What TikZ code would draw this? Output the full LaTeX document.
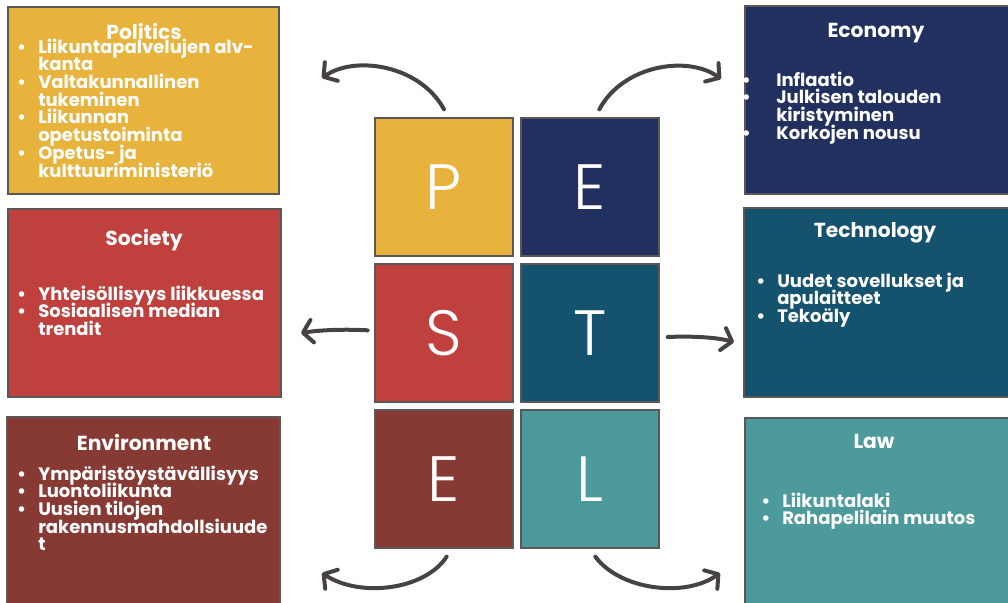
\documentclass[tikz,border=0pt]{standalone}
\usepackage{fontspec}
\setmainfont{Poppins}
\newfontfamily\letterfont{Poppins Light}
\usetikzlibrary{arrows.meta}
\definecolor{polcolor}{HTML}{E7B33C}
\definecolor{ecocolor}{HTML}{21305E}
\definecolor{soccolor}{HTML}{C0403E}
\definecolor{techcolor}{HTML}{14526E}
\definecolor{envcolor}{HTML}{873A34}
\definecolor{lawcolor}{HTML}{4C9A9B}
\definecolor{edgegray}{HTML}{5B5657}
\definecolor{arrowgray}{HTML}{474242}
\newcommand\itm[1][9pt]{\llap{\textbullet\hspace{#1}}}
\newcommand\lines[1]{\vtop{\baselineskip=13.3pt\lineskiplimit=-\maxdimen\let\\\cr\halign{##\hfil\cr#1\crcr}}}
\tikzstyle{factor} = [rectangle, draw=edgegray, line width=1pt]
\tikzstyle{letterbox} = [rectangle, minimum size=103.5pt, draw=edgegray, line width=1pt, text=white, font=\letterfont\fontsize{48}{48}\selectfont]
\tikzstyle{factortitle} = [text=white, font=\bfseries\fontsize{15.2}{15.2}\selectfont, inner sep=0pt, anchor=base]
\tikzstyle{itemlist} = [text=white, font=\bfseries\fontsize{13.5}{13.3}\selectfont, inner sep=0pt, anchor=base west]
\tikzstyle{arrow} = [line width=3pt, draw=arrowgray, line cap=round, -{Straight Barb[length=7pt,width=17pt,round]}]

\begin{document}
\begin{tikzpicture}[x=0.75pt, y=-0.75pt, node distance=109.5pt]
    \useasboundingbox (0,0) rectangle (1008,603);
    \clip (0,0) rectangle (1008,603);

    % PESTEL squares
    \node (pbox) [letterbox, fill=polcolor] at (444,187) {P};
    \node (ebox) [letterbox, fill=ecocolor, right of=pbox] {E};
    \node (sbox) [letterbox, fill=soccolor, below of=pbox] {S};
    \node (tbox) [letterbox, fill=techcolor, right of=sbox] {T};
    \node (envbox) [letterbox, fill=envcolor, below of=sbox] {E};
    \node (lbox) [letterbox, fill=lawcolor, right of=envbox] {L};

    % Factor boxes
    \node (politics) [factor, fill=polcolor, minimum width=203.25pt, minimum height=140.25pt] at (143.5,100.5) {};
    \node (economy) [factor, fill=ecocolor, minimum width=202.5pt, minimum height=141pt] at (880,100) {};
    \node (society) [factor, fill=soccolor, minimum width=204.75pt, minimum height=141pt] at (144.5,303) {};
    \node (technology) [factor, fill=techcolor, minimum width=203.25pt, minimum height=141.75pt] at (879.5,302.5) {};
    \node (environment) [factor, fill=envcolor, minimum width=204.75pt, minimum height=152.25pt] at (143.5,518.5) {};
    \node (law) [factor, fill=lawcolor, minimum width=202.5pt, minimum height=151.5pt] at (880,519) {};

    % Titles
    \node (poltitle) [factortitle] at (144,40) {Politics};
    \node (ecotitle) [factortitle] at (876,37) {Economy};
    \node (soctitle) [factortitle] at (144,245) {Society};
    \node (techtitle) [factortitle] at (875,237) {Technology};
    \node (envtitle) [factortitle] at (144,450) {Environment};
    \node (lawtitle) [factortitle] at (874,448) {Law};

    % Lists
    \node (pollist) [itemlist] at (38,53) {\lines{\itm Liikuntapalvelujen alv-\\ kanta\\ \itm Valtakunnallinen\\ tukeminen\\ \itm Liikunnan\\ opetustoiminta\\ \itm Opetus- ja\\ kulttuuriministeriö}};
    \node (ecolist) [itemlist] at (776,86) {\lines{\itm[19pt]Inflaatio\\ \itm[19pt]Julkisen talouden\\ kiristyminen\\ \itm[19pt]Korkojen nousu}};
    \node (soclist) [itemlist] at (38,300) {\lines{\itm Yhteisöllisyys liikkuessa\\ \itm Sosiaalisen median\\ trendit}};
    \node (techlist) [itemlist] at (777,287) {\lines{\itm Uudet sovellukset ja\\ apulaitteet\\ \itm Tekoäly}};
    \node (envlist) [itemlist] at (38,480) {\lines{\itm Ympäristöystävällisyys\\ \itm Luontoliikunta\\ \itm Uusien tilojen\\ rakennusmahdollsiuude\\ t}};
    \node (lawlist) [itemlist] at (782,507) {\lines{\itm Liikuntalaki\\ \itm Rahapelilain muutos}};

    % Arrow ends
    \coordinate (polend) at (322,78);
    \coordinate (ecoend) at (721,79);
    \coordinate (socend) at (301,333);
    \coordinate (techend) at (734,342);
    \coordinate (envend) at (322,573);
    \coordinate (lawend) at (720,573);

    % Arrows
    \draw [arrow] ([yshift=6pt]pbox.north) .. controls (420,65) and (355,55) .. (polend);
    \draw [arrow] ([xshift=7pt,yshift=6pt]ebox.north) .. controls (623,65) and (688,55) .. (ecoend);
    \draw [arrow] ([xshift=-5pt,yshift=2pt]sbox.west) .. controls (345,329) and (320,330) .. (socend);
    \draw [arrow] ([xshift=6pt,yshift=-3pt]tbox.east) .. controls (690,336) and (715,337) .. (techend);
    \draw [arrow] ([xshift=2pt,yshift=-6pt]envbox.south) .. controls (425,590) and (360,598) .. (envend);
    \draw [arrow] ([xshift=4pt,yshift=-6pt]lbox.south) .. controls (620,590) and (685,598) .. (lawend);

\end{tikzpicture}
\end{document}
